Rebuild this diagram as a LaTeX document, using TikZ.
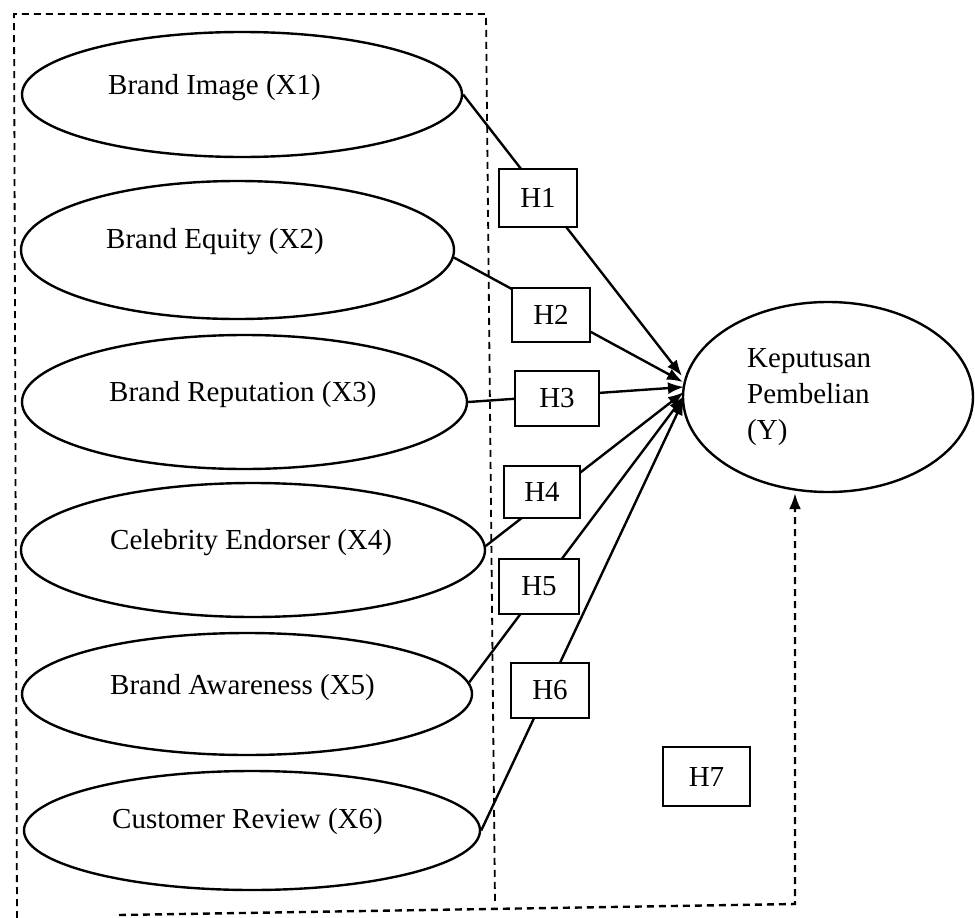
\documentclass[tikz,border=0pt]{standalone}
\usepackage{fontspec}
\setmainfont{Liberation Serif}
\usetikzlibrary{shapes.geometric,arrows.meta}

\tikzset{
  var/.style={draw, ellipse, line width=2.4pt, inner sep=0pt, fill=white},
  hbox/.style={draw, rectangle, line width=1.5pt, inner sep=0pt, fill=white,
    font=\fontsize{29}{36}\selectfont},
  lbl/.style={anchor=base west, inner sep=0pt, font=\fontsize{29}{36}\selectfont},
  hpath/.style={line width=2.4pt, -{Latex[length=16pt,width=12pt]}},
  frame/.style={line width=1.8pt, dash pattern=on 7pt off 5pt},
  dashpath/.style={line width=2.4pt, dash pattern=on 7pt off 5pt,
    -{Latex[length=16pt,width=12pt]}}
}

\begin{document}
\begin{tikzpicture}[x=1pt, y=-1pt]
\useasboundingbox (0,0) rectangle (975,918);

% grouping frame around the independent variables
\draw[frame] (17,918) -- (14,14) -- (486,14) -- (495,903);

% independent variables
\node[var, minimum width=440pt, minimum height=125pt] (X1) at (242,94.5) {};
\node[var, minimum width=433pt, minimum height=138pt] (X2) at (237.5,250) {};
\node[var, minimum width=445pt, minimum height=134pt] (X3) at (244.5,402) {};
\node[var, minimum width=464pt, minimum height=134pt] (X4) at (253,550) {};
\node[var, minimum width=450pt, minimum height=122pt] (X5) at (247,694) {};
\node[var, minimum width=456pt, minimum height=119pt] (X6) at (252,830.5) {};

\node[lbl] (tX1) at (108,94) {Brand Image (X1)};
\node[lbl] (tX2) at (106,248) {Brand Equity (X2)};
\node[lbl] (tX3) at (109,401) {Brand Reputation (X3)};
\node[lbl] (tX4) at (110,549) {Celebrity Endorser (X4)};
\node[lbl] (tX5) at (110,694) {Brand Awareness (X5)};
\node[lbl] (tX6) at (112,828) {Customer Review (X6)};

% dependent variable
\node[var, minimum width=290pt, minimum height=190pt] (Y) at (828,397) {};
\node[lbl] (tY) at (747,367) {\begin{tabular}[t]{@{}l@{}}Keputusan\\Pembelian\\(Y)\end{tabular}};

% arrow ends on the left side of Y
\coordinate (t1) at (682,376);
\coordinate (t2) at (683,382);
\coordinate (t3) at (684,387);
\coordinate (t4) at (684,392);
\coordinate (t5) at (684,396);
\coordinate (t6) at (684,399);

% hypothesised paths
\draw[hpath] (X1.east) -- (t1);
\draw[hpath] (X2.-2) -- (t2);
\draw[hpath] (X3.east) -- (t3);
\draw[hpath] (X4.1.5) -- (t4);
\draw[hpath] (X5.3) -- (t5);
\draw[hpath] (X6.east) -- (t6);

% simultaneous path
\coordinate (d0) at (119,915);
\coordinate (d1) at (795,904);
\draw[dashpath] (d0) -- (d1) -- (d1 |- Y.south);

% hypothesis labels
\node[hbox, minimum width=78pt, minimum height=58pt] (H1) at (538,198) {H1};
\node[hbox, minimum width=78pt, minimum height=54pt] (H2) at (551,315) {H2};
\node[hbox, minimum width=84pt, minimum height=55pt] (H3) at (557,398.5) {H3};
\node[hbox, minimum width=76pt, minimum height=52pt] (H4) at (542,492) {H4};
\node[hbox, minimum width=80pt, minimum height=55pt] (H5) at (539,586.5) {H5};
\node[hbox, minimum width=78pt, minimum height=55pt] (H6) at (550,690.5) {H6};
\node[hbox, minimum width=87pt, minimum height=59pt] (H7) at (706.5,776.5) {H7};
\end{tikzpicture}
\end{document}
